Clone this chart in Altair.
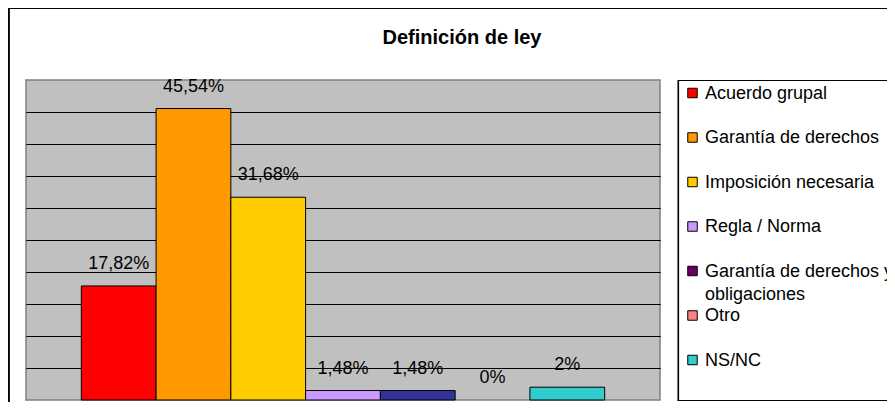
import altair as alt
import pandas as pd

categories = ["Acuerdo grupal", "Garantía de derechos", "Imposición necesaria",
              "Regla / Norma", "Garantía de derechos y obligaciones", "Otro", "NS/NC"]
values = [17.82, 45.54, 31.68, 1.48, 1.48, 0, 2]
labels = ["17,82%", "45,54%", "31,68%", "1,48%", "1,48%", "0%", "2%"]
bar_colors = ["#FF0000", "#FF9900", "#FFCC00", "#CC99FF", "#333399", "#FF8080", "#33CCCC"]
legend_colors = ["#FF0000", "#FF9900", "#FFCC00", "#CC99FF", "#660066", "#FF8080", "#33CCCC"]
grid_values = [5, 10, 15, 20, 25, 30, 35, 40, 45]
title_text = "Definición de ley"

df = pd.DataFrame({
    "cat": categories,
    "value": values,
    "label": labels,
    "bar_color": bar_colors,
    "legend_color": legend_colors,
})
title_df = pd.DataFrame({"t": [title_text]})

FONT = "Liberation Sans"
W, H = 634, 320

xscale = alt.Scale(domain=categories, paddingInner=0, paddingOuter=0.74)
yscale = alt.Scale(domain=[0, 50], nice=False, zero=True)
yaxis = alt.Axis(values=grid_values, labels=False, ticks=False, domain=False,
                 grid=True, gridColor="#000000", gridWidth=1, gridOpacity=1, title=None)

base = alt.Chart(df)

bars = base.mark_bar(stroke="#000000", strokeWidth=1).encode(
    x=alt.X("cat:N", scale=xscale, axis=None, sort=categories),
    y=alt.Y("value:Q", scale=yscale, axis=yaxis),
    color=alt.Color("bar_color:N", scale=None),
).transform_filter("datum.value > 0")

bar_labels = base.mark_text(font=FONT, fontSize=18, color="#000000",
                            baseline="middle", dy=-22).encode(
    x=alt.X("cat:N", scale=xscale, axis=None, sort=categories),
    y=alt.Y("value:Q", scale=yscale, axis=yaxis),
    text="label:N",
)

frame_left = base.mark_rule(color="#000000", strokeWidth=1.5).encode(
    x=alt.value(-17.5), y=alt.value(-72), y2=alt.value(420)
)
frame_top = base.mark_rule(color="#000000", strokeWidth=1.5).encode(
    x=alt.value(-17.5), x2=alt.value(900), y=alt.value(-72)
)

title_mark = alt.Chart(title_df).mark_text(
    font=FONT, fontSize=20, fontWeight="bold", color="#000000",
    align="center", baseline="alphabetic"
).encode(x=alt.value(436), y=alt.value(-36), text="t:N")

legend_box = base.mark_rect(fill="#FFFFFF", stroke="#000000", strokeWidth=1.2).encode(
    x=alt.value(652.5), x2=alt.value(900), y=alt.value(0.5), y2=alt.value(320.5)
)

legend_y = alt.Y("cat:N", sort=categories,
                 scale=alt.Scale(type="point", domain=categories, range=[13, 280], padding=0),
                 axis=None)

legend_swatch = base.mark_square(size=90, stroke="#000000", strokeWidth=1, opacity=1).encode(
    x=alt.value(666.5),
    y=legend_y,
    color=alt.Color("legend_color:N", scale=None),
)

legend_text = base.mark_text(font=FONT, fontSize=18, color="#000000", align="left",
                             baseline="alphabetic", dy=5.5, lineBreak="\n",
                             lineHeight=23).encode(
    x=alt.value(679),
    y=legend_y,
    text="disp:N",
).transform_calculate(
    disp="replace(datum.cat, ' obligaciones', '\\nobligaciones')"
)

chart = alt.layer(
    bars, bar_labels, frame_left, frame_top, title_mark,
    legend_box, legend_swatch, legend_text
).resolve_scale(
    y="independent"
).properties(
    width=W, height=H,
    background="#FFFFFF",
    autosize=alt.AutoSizeParams(type="none"),
    padding={"left": 18, "top": 72, "right": 879 - 18 - W, "bottom": 2},
).configure_view(
    fill="#C0C0C0", stroke="#808080", strokeWidth=1.5
)

chart.save("out.html", embed_options={"renderer": "svg", "actions": False})
